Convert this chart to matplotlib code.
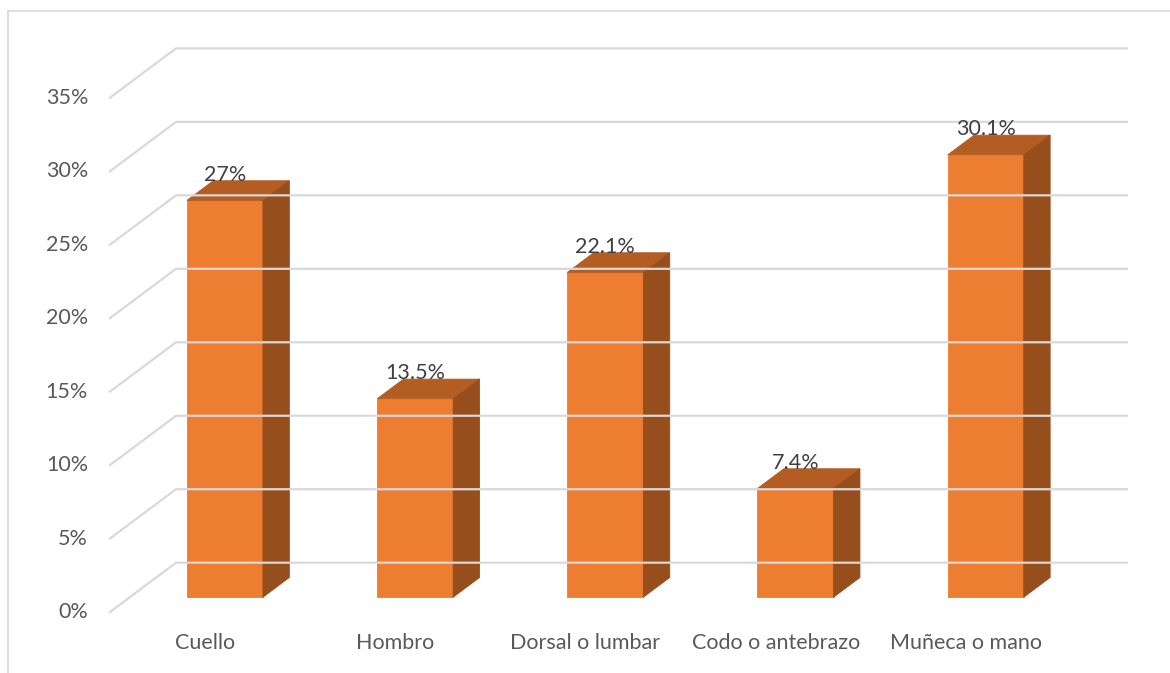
import matplotlib
matplotlib.use('Agg')
import matplotlib.pyplot as plt
from matplotlib.patches import Polygon
from matplotlib.lines import Line2D
import numpy as np

categories = ['Cuello', 'Hombro', 'Dorsal o lumbar', 'Codo o antebrazo', 'Muñeca o mano']
values = [27.0, 13.5, 22.1, 7.4, 30.1]
value_labels = ['27%', '13.5%', '22.1%', '7.4%', '30.1%']
y_ticks = [0, 5, 10, 15, 20, 25, 30, 35]
y_tick_labels = [f'{t}%' for t in y_ticks]

plt.rcParams['font.family'] = ['Lato', 'DejaVu Sans']

W, H, DPI = 1170, 673, 100
DEPTH_PX = np.array([66.0, 49.3])   # on-screen shift from front plane to back wall
BAR_WIDTH = 0.4                     # gap width 150%
BAR_D0, BAR_D1 = 0.3, 0.7           # gap depth 150%
FRONT_C, TOP_C, SIDE_C = '#ED7D31', '#B45D22', '#974E1D'
GRID_C = '#D9D9D9'
FS = 15.5

fig = plt.figure(figsize=(W / DPI, H / DPI), dpi=DPI)
fig.patch.set_facecolor('white')
ax = fig.add_axes([110 / W, 61 / H, (1061 - 110) / W, (612 - 97.7) / H])
ax.set_xlim(0, len(categories))
ax.set_ylim(0, y_ticks[-1])
ax.axis('off')


def proj(x, v, d):
    """Oblique projection of (category position, value, depth) into axes fraction."""
    px = ax.transData.transform((x, v)) + d * DEPTH_PX
    return ax.transAxes.inverted().transform(px)


def line3(points, **kw):
    xy = np.array([proj(*p) for p in points])
    ax.add_line(Line2D(xy[:, 0], xy[:, 1], transform=ax.transAxes, clip_on=False, **kw))


def face(points, color):
    xy = np.array([proj(*p) for p in points])
    ax.add_patch(Polygon(xy, closed=True, transform=ax.transAxes, clip_on=False,
                         facecolor=color, edgecolor=color, linewidth=0.6))


n = len(categories)

# gridlines: diagonal on the side wall, horizontal on the back wall
for t in y_ticks:
    line3([(0, t, 0), (0, t, 1), (n, t, 1)], color=GRID_C, linewidth=1.6)

# value axis labels
for t, lab in zip(y_ticks, y_tick_labels):
    ax.annotate(lab, xy=proj(0, t, 0), xycoords=ax.transAxes,
                xytext=(-22, 0), textcoords='offset pixels',
                ha='right', va='center', fontsize=FS, color='#595959')

# 3-D columns
for i, v in enumerate(values):
    xl, xr = i + 0.5 - BAR_WIDTH / 2, i + 0.5 + BAR_WIDTH / 2
    face([(xl, 0, BAR_D0), (xr, 0, BAR_D0), (xr, v, BAR_D0), (xl, v, BAR_D0)], FRONT_C)
    face([(xl, v, BAR_D0), (xr, v, BAR_D0), (xr, v, BAR_D1), (xl, v, BAR_D1)], TOP_C)
    face([(xr, 0, BAR_D0), (xr, 0, BAR_D1), (xr, v, BAR_D1), (xr, v, BAR_D0)], SIDE_C)

# data labels
for i, (v, lab) in enumerate(zip(values, value_labels)):
    ax.annotate(lab, xy=proj(i + 0.5, v, BAR_D0), xycoords=ax.transAxes,
                xytext=(0, 25.5), textcoords='offset pixels',
                ha='center', va='center', fontsize=FS, color='#404040')

# category labels
for i, cat in enumerate(categories):
    ax.annotate(cat, xy=proj(i + 0.5, 0, 0), xycoords=ax.transAxes,
                xytext=(0, -30.7), textcoords='offset pixels',
                ha='center', va='center', fontsize=FS, color='#595959')

# chart area border (left and top edges)
fig.add_artist(Line2D([8 / W, 8 / W], [0, 1 - 11 / H], transform=fig.transFigure,
                      color=GRID_C, linewidth=1.2))
fig.add_artist(Line2D([8 / W, 1], [1 - 11 / H, 1 - 11 / H], transform=fig.transFigure,
                      color=GRID_C, linewidth=1.2))

fig.savefig('out.png', dpi=DPI, facecolor='white')
